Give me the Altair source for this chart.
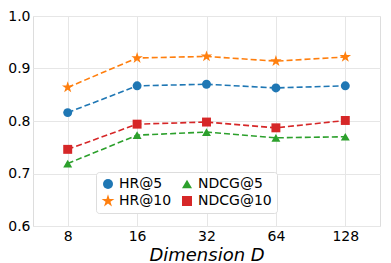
import altair as alt
import pandas as pd

dims = ["8", "16", "32", "64", "128"]
hr5 = [0.816, 0.867, 0.870, 0.863, 0.867]
hr10 = [0.864, 0.920, 0.923, 0.914, 0.922]
ndcg5 = [0.719, 0.773, 0.779, 0.768, 0.770]
ndcg10 = [0.746, 0.794, 0.798, 0.787, 0.801]

series = {"HR@5": hr5, "HR@10": hr10, "NDCG@5": ndcg5, "NDCG@10": ndcg10}
rows = []
for name, vals in series.items():
    for d, v in zip(dims, vals):
        rows.append({"dim": d, "value": v, "metric": name})
df = pd.DataFrame(rows)

legend_order = ["HR@5", "HR@10", "NDCG@5", "NDCG@10"]
colors = ["#1f77b4", "#ff7f0e", "#2ca02c", "#d62728"]
star = ("M0,-1.35L0.303,-0.417L1.284,-0.417L0.490,0.159L0.794,1.092L0,0.516"
        "L-0.794,1.092L-0.490,0.159L-1.284,-0.417L-0.303,-0.417Z")
shapes = ["circle", star, "triangle-up", "square"]

FONT = "DejaVu Sans"

x = alt.X("dim:O", sort=dims, scale=alt.Scale(type="point", padding=0.5),
          axis=alt.Axis(title="Dimension D", labelAngle=0, titleFontStyle="italic",
                        titleFontWeight="normal", titleFontSize=18, labelFontSize=14,
                        titlePadding=3, labelPadding=3, ticks=False, domain=False,
                        labelColor="#000", titleColor="#000", gridColor="#e6e6e6", grid=True))
y = alt.Y("value:Q", scale=alt.Scale(domain=[0.6, 1.0], nice=False, zero=False),
          axis=alt.Axis(title=None, values=[0.6, 0.7, 0.8, 0.9, 1.0], format=".1f",
                        labelFontSize=14, ticks=False, domain=False, labelPadding=3,
                        labelColor="#000", gridColor="#e6e6e6"))

color = alt.Color("metric:N", scale=alt.Scale(domain=legend_order, range=colors),
                  legend=alt.Legend(title=None, orient="none", legendX=63, legendY=156,
                                    columns=2, labelFontSize=14, labelFont=FONT,
                                    symbolSize=100, columnPadding=8, rowPadding=3,
                                    padding=5, strokeColor="#dddddd", fillColor="#ffffff",
                                    cornerRadius=3, symbolOpacity=1, labelColor="#000",
                                    symbolStrokeWidth=0, labelOffset=4))
shape = alt.Shape("metric:N", scale=alt.Scale(domain=legend_order, range=shapes))

lines = alt.Chart(df).mark_line(strokeDash=[6, 3], strokeWidth=1.6).encode(
    x=x, y=y, color=color, detail="metric:N")
points = alt.Chart(df).mark_point(filled=True, size=80, opacity=1).encode(
    x=x, y=y, color=color, shape=shape)

chart = (lines + points).properties(
    width=347, height=210,
    autosize=alt.AutoSizeParams(type="none"),
    padding={"left": 25, "top": 8, "right": 3, "bottom": 38},
).configure_view(stroke="#333333", strokeWidth=1.2).configure(font=FONT)

chart.save("out.html", embed_options={"renderer": "svg", "actions": False})
